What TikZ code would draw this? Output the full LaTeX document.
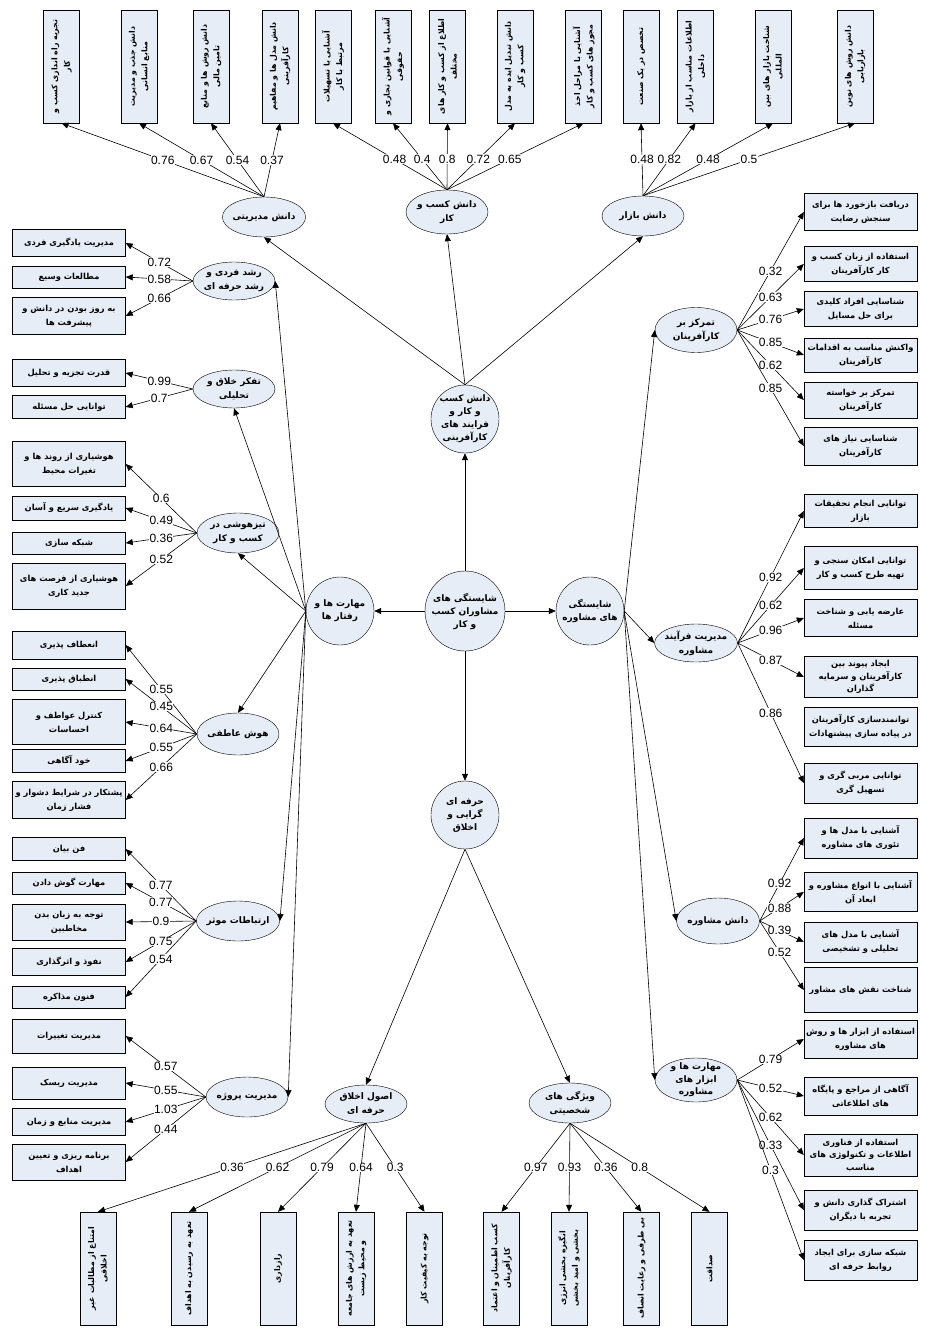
\documentclass[tikz,border=0pt]{standalone}
\usepackage{fontspec}
\usetikzlibrary{shapes.geometric,arrows.meta}
\newfontfamily\fafont[Script=Arabic]{DejaVu Sans}
\newfontfamily\numfont{Liberation Sans}
\TeXXeTstate=1
\newcommand{\fa}[1]{\beginR#1\endR}
\definecolor{boxfill}{RGB}{231,237,247}
\tikzset{
 box/.style={draw,fill=boxfill,align=center,minimum width=113pt,inner sep=1pt,font=\fafont\bfseries\fontsize{8.3}{14}\selectfont},
 vbox/.style={box,rotate=90,minimum height=36pt,font=\fafont\bfseries\fontsize{7.8}{12.5}\selectfont},
 lat/.style={ellipse,draw,fill=boxfill,minimum width=82pt,minimum height=40pt,inner sep=-2pt,align=center,font=\fafont\bfseries\fontsize{9}{14}\selectfont},
 hub/.style={circle,draw,fill=boxfill,minimum size=68pt,inner sep=-4pt,align=center,font=\fafont\bfseries\fontsize{9}{13}\selectfont},
 arr/.style={-{Triangle[length=7pt,width=6pt]},line width=0.6pt},
 wt/.style={pos=0.5,fill=white,inner sep=0.5pt,font=\numfont\fontsize{12}{12}\selectfont}
}
\begin{document}
\begin{tikzpicture}[x=1pt,y=-1pt]
\useasboundingbox(0,0)rectangle(925,1335);
\fill[white](0,0)rectangle(925,1335);
\node[vbox](t1)at(61.5,66.5){\fa{تجربه راه اندازی کسب و}\\\fa{کار}};
\node[vbox](t2)at(139,66.5){\fa{دانش جذب و مدیریت}\\\fa{منابع انسانی}};
\node[vbox](t3)at(211,66.5){\fa{دانش روش ها و منابع}\\\fa{تامین مالی}};
\node[vbox](t4)at(280,66.5){\fa{دانش مدل ها و مفاهیم}\\\fa{کارآفرینی}};
\node[vbox](t5)at(333,66.5){\fa{آشنایی با تسهیلات}\\\fa{مرتبط با کار}};
\node[vbox](t6)at(393,66.5){\fa{آشنایی با قوانین تجاری و}\\\fa{حقوقی}};
\node[vbox](t7)at(447.5,66.5){\fa{اطلاع از کسب و کار های}\\\fa{مختلف}};
\node[vbox](t8)at(515,66.5){\fa{دانش تبدیل ایده به مدل}\\\fa{کسب و کار}};
\node[vbox](t9)at(583.5,66.5){\fa{آشنایی با مراحل اخذ}\\\fa{مجوز های کسب و کار}};
\node[vbox](t10)at(641,66.5){\fa{تخصص در یک صنعت}};
\node[vbox](t11)at(695.5,66.5){\fa{اطلاعات مناسب از بازار}\\\fa{داخلی}};
\node[vbox](t12)at(773,66.5){\fa{شناخت بازار های بین}\\\fa{المللی}};
\node[vbox](t13)at(855,66.5){\fa{دانش روش های نوین}\\\fa{بازاریابی}};
\node[lat](em)at(264,217){\fa{دانش مدیریتی}};
\node[lat,minimum height=44pt](ek)at(447,212){\fa{دانش کسب و}\\\fa{کار}};
\node[lat](eb)at(643,216){\fa{دانش بازار}};
\node[box,minimum height=27pt](lb1)at(69,243){\fa{مدیریت یادگیری فردی}};
\node[box,minimum height=22pt](lb2)at(69,277){\fa{مطالعات وسیع}};
\node[box,minimum height=37pt](lb3)at(69,316){\fa{به روز بودن در دانش و}\\\fa{پیشرفت ها}};
\node[box,minimum height=27pt](lb4)at(69,373){\fa{قدرت تجزیه و تحلیل}};
\node[box,minimum height=23pt](lb5)at(69,407){\fa{توانایی حل مسئله}};
\node[box,minimum height=45pt](lb6)at(69,464){\fa{هوشیاری از روند ها و}\\\fa{تغیرات محیط}};
\node[box,minimum height=24pt](lb7)at(69,508){\fa{یادگیری سریع و آسان}};
\node[box,minimum height=22pt](lb8)at(69,543){\fa{شبکه سازی}};
\node[box,minimum height=46pt](lb9)at(69,586){\fa{هوشیاری از فرصت های}\\\fa{جدید کاری}};
\node[box,minimum height=28pt](lb10)at(69,645){\fa{انعطاف پذیری}};
\node[box,minimum height=22pt](lb11)at(69,679){\fa{انطباق پذیری}};
\node[box,minimum height=45pt](lb12)at(69,722){\fa{کنترل عواطف و}\\\fa{احساسات}};
\node[box,minimum height=23pt](lb13)at(69,761){\fa{خود آگاهی}};
\node[box,minimum height=37pt](lb14)at(69,800){\fa{پشتکار در شرایط دشوار و}\\\fa{فشار زمان}};
\node[box,minimum height=23pt](lb15)at(69,849){\fa{فن بیان}};
\node[box,minimum height=22pt](lb16)at(69,883){\fa{مهارت گوش دادن}};
\node[box,minimum height=36pt](lb17)at(69,922){\fa{توجه به زبان بدن}\\\fa{مخاطبین}};
\node[box,minimum height=27pt](lb18)at(69,962){\fa{نفوذ و اثرگذاری}};
\node[box,minimum height=22pt](lb19)at(69,997){\fa{فنون مذاکره}};
\node[box,minimum height=34pt](lb20)at(69,1036){\fa{مدیریت تغییرات}};
\node[box,minimum height=32pt](lb21)at(69,1083){\fa{مدیریت ریسک}};
\node[box,minimum height=27pt](lb22)at(69,1122){\fa{مدیریت منابع و زمان}};
\node[box,minimum height=36pt](lb23)at(69,1162){\fa{برنامه ریزی و تعیین}\\\fa{اهداف}};
\node[lat,minimum height=38pt](rf)at(234,281){\fa{رشد فردی و}\\\fa{رشد حرفه ای}};
\node[lat,minimum height=38pt](tk)at(234,389){\fa{تفکر خلاق و}\\\fa{تحلیلی}};
\node[lat](tz)at(238,533){\fa{تیزهوشی در}\\\fa{کسب و کار}};
\node[lat,minimum height=42pt](hq)at(238,734){\fa{هوش عاطفی}};
\node[lat](er)at(238,921){\fa{ارتباطات موثر}};
\node[lat](mp)at(247,1097){\fa{مدیریت پروژه}};
\node[hub](dk)at(465,419){\fa{دانش کسب}\\\fa{و کار و}\\\fa{فرایند های}\\\fa{کارآفرینی}};
\node[hub,minimum size=80pt](c0)at(465,611){\fa{شایستگی های}\\\fa{مشاوران کسب}\\\fa{و کار}};
\node[hub](mr)at(340,611){\fa{مهارت ها و}\\\fa{رفتار ها}};
\node[hub](sm)at(590,611){\fa{شایستگی}\\\fa{های مشاوره}};
\node[hub](hp)at(465,815){\fa{حرفه ای}\\\fa{گرایی و}\\\fa{اخلاق}};
\node[box,minimum height=37pt](rb1)at(860.5,212){\fa{دریافت بازخورد ها برای}\\\fa{سنجش رضایت}};
\node[box,minimum height=35pt](rb2)at(860.5,264){\fa{استفاده از زبان کسب و}\\\fa{کار کارآفرینان}};
\node[box,minimum height=35pt](rb3)at(860.5,309){\fa{شناسایی افراد کلیدی}\\\fa{برای حل مسایل}};
\node[box,minimum height=34pt](rb4)at(860.5,355){\fa{واکنش مناسب به اقدامات}\\\fa{کارآفرینان}};
\node[box,minimum height=36pt](rb5)at(860.5,400){\fa{تمرکز بر خواسته}\\\fa{کارآفرینان}};
\node[box,minimum height=38pt](rb6)at(860.5,446){\fa{شناسایی نیاز های}\\\fa{کارآفرینان}};
\node[box,minimum height=33pt](rb7)at(860.5,511){\fa{توانایی انجام تحقیقات}\\\fa{بازار}};
\node[box,minimum height=43pt](rb8)at(860.5,568){\fa{توانایی امکان سنجی و}\\\fa{تهیه طرح کسب و کار}};
\node[box,minimum height=37pt](rb9)at(860.5,618){\fa{عارضه یابی و شناخت}\\\fa{مسئله}};
\node[box,minimum height=41pt,font=\fafont\bfseries\fontsize{8.3}{12.5}\selectfont](rb10)at(860.5,677){\fa{ایجاد پیوند بین}\\\fa{کارآفرینان و سرمایه}\\\fa{گذاران}};
\node[box,minimum height=39pt](rb11)at(860.5,727){\fa{توانمندسازی کارآفرینان}\\\fa{در پیاده سازی پیشنهادات}};
\node[box,minimum height=40pt](rb12)at(860.5,783){\fa{توانایی مربی گری و}\\\fa{تسهیل گری}};
\node[box,minimum height=40pt](rb13)at(860.5,838){\fa{آشنایی با مدل ها و}\\\fa{تئوری های مشاوره}};
\node[box,minimum height=39pt](rb14)at(860.5,892){\fa{آشنایی با انواع مشاوره و}\\\fa{ابعاد آن}};
\node[box,minimum height=40pt](rb15)at(860.5,942){\fa{آشنایی با مدل های}\\\fa{تحلیلی و تشخیصی}};
\node[box,minimum height=45pt](rb16)at(860.5,990){\fa{شناخت نقش های مشاور}};
\node[box,minimum height=38pt](rb17)at(860.5,1039){\fa{استفاده از ابزار ها و روش}\\\fa{های مشاوره}};
\node[box,minimum height=38pt](rb18)at(860.5,1096){\fa{آگاهی از مراجع و پایگاه}\\\fa{های اطلاعاتی}};
\node[box,minimum height=42pt,font=\fafont\bfseries\fontsize{8.3}{12.5}\selectfont](rb19)at(860.5,1155){\fa{استفاده از فناوری}\\\fa{اطلاعات و تکنولوژی های}\\\fa{مناسب}};
\node[box,minimum height=40pt](rb20)at(860.5,1210){\fa{اشتراک گذاری دانش و}\\\fa{تجربه با دیگران}};
\node[box,minimum height=40pt](rb21)at(860.5,1260){\fa{شبکه سازی برای ایجاد}\\\fa{روابط حرفه ای}};
\node[lat,minimum height=45pt](tm)at(696,330){\fa{تمرکز بر}\\\fa{کارآفرینان}};
\node[lat,minimum height=38pt](mf)at(696,643){\fa{مدیریت فرآیند}\\\fa{مشاوره}};
\node[lat,minimum width=83pt,minimum height=46pt](dm)at(718,921){\fa{دانش مشاوره}};
\node[lat,minimum height=44pt,inner sep=-8pt,font=\fafont\bfseries\fontsize{9}{12.5}\selectfont](ma)at(696,1080){\fa{مهارت ها و}\\\fa{ابزار های}\\\fa{مشاوره}};
\node[lat,minimum height=38pt](ao)at(366,1104){\fa{اصول اخلاق}\\\fa{حرفه ای}};
\node[lat](vs)at(570,1103){\fa{ویژگی های}\\\fa{شخصیتی}};
\node[vbox](bb1)at(98,1268.5){\fa{امتناع از مطالبات غیر}\\\fa{اخلاقی}};
\node[vbox](bb2)at(189,1268.5){\fa{تعهد به رسیدن به اهداف}};
\node[vbox](bb3)at(278,1268.5){\fa{رازداری}};
\node[vbox](bb4)at(356,1268.5){\fa{تعهد به ارزش های جامعه}\\\fa{و محیط زیست}};
\node[vbox](bb5)at(424.5,1268.5){\fa{توجه به کیفیت کار}};
\node[vbox](bb6)at(501.5,1268.5){\fa{کسب اطمینان و اعتماد}\\\fa{کارآفرینان}};
\node[vbox](bb7)at(569,1268.5){\fa{انگیزه بخشی انرژی}\\\fa{بخشی و امید بخشی}};
\node[vbox](bb8)at(641.5,1268.5){\fa{بی طرفی و رعایت انصاف}};
\node[vbox](bb9)at(709.5,1268.5){\fa{صداقت}};
\draw[arr](c0)--(dk);
\draw[arr](c0)--(mr);
\draw[arr](c0)--(sm);
\draw[arr](c0)--(hp);
\foreach \e/\a in {em/south,ek/south,eb/south}
  \draw[arr](dk.north)--(\e.\a);
\foreach \e/\a in {rf/east,tk/south,tz/south,hq/north,er/east,mp/east}
  \draw[arr](mr.west)--(\e.\a);
\foreach \e in {tm,mf,dm,ma}
  \draw[arr](sm.east)--(\e.west);
\foreach \e in {ao,vs}
  \draw[arr](hp.south)--(\e.north);
\foreach \b/\v in {t1/0.76,t2/0.67,t3/0.54,t4/0.37}
  \draw[arr](em.north)--(\b.west)node[wt]{\v};
\foreach \b/\v in {t5/0.48,t6/0.4,t7/0.8,t8/0.72,t9/0.65}
  \draw[arr](ek.north)--(\b.west)node[wt,pos=0.46]{\v};
\foreach \b/\v in {t10/0.48,t11/0.82,t12/0.48,t13/0.5}
  \draw[arr](eb.north)--(\b.west)node[wt]{\v};
\foreach \b/\v in {lb1/0.72,lb2/0.58,lb3/0.66}
  \draw[arr](rf.west)--(\b.east)node[wt]{\v};
\foreach \b/\v in {lb4/0.99,lb5/0.7}
  \draw[arr](tk.west)--(\b.east)node[wt]{\v};
\foreach \b/\v in {lb6/0.6,lb7/0.49,lb8/0.36,lb9/0.52}
  \draw[arr](tz.west)--(\b.east)node[wt]{\v};
\foreach \b/\v in {lb10/0.55,lb11/0.45,lb12/0.64,lb13/0.55,lb14/0.66}
  \draw[arr](hq.west)--(\b.east)node[wt]{\v};
\foreach \b/\v in {lb15/0.77,lb16/0.77,lb17/0.9,lb18/0.75,lb19/0.54}
  \draw[arr](er.west)--(\b.east)node[wt]{\v};
\foreach \b/\v in {lb20/0.57,lb21/0.55,lb22/1.03,lb23/0.44}
  \draw[arr](mp.west)--(\b.east)node[wt]{\v};
\foreach \b/\v in {rb1/0.32,rb2/0.63,rb3/0.76,rb4/0.85,rb5/0.62,rb6/0.85}
  \draw[arr](tm.east)--(\b.west)node[wt]{\v};
\foreach \b/\v in {rb7/0.92,rb8/0.62,rb9/0.96,rb10/0.87,rb12/0.86}
  \draw[arr](mf.east)--(\b.west)node[wt]{\v};
\foreach \b/\v in {rb13/0.92,rb14/0.88,rb15/0.39,rb16/0.52}
  \draw[arr](dm.east)--(\b.west)node[wt,pos=0.45]{\v};
\foreach \b/\v in {rb17/0.79,rb18/0.52,rb19/0.62,rb20/0.33,rb21/0.3}
  \draw[arr](ma.east)--(\b.west)node[wt]{\v};
\foreach \b/\v in {bb1/0.36,bb2/0.62,bb3/0.79,bb4/0.64,bb5/0.3}
  \draw[arr](ao.south)--(\b.east)node[wt]{\v};
\foreach \b/\v in {bb6/0.97,bb7/0.93,bb8/0.36,bb9/0.8}
  \draw[arr](vs.south)--(\b.east)node[wt]{\v};
\end{tikzpicture}
\end{document}
